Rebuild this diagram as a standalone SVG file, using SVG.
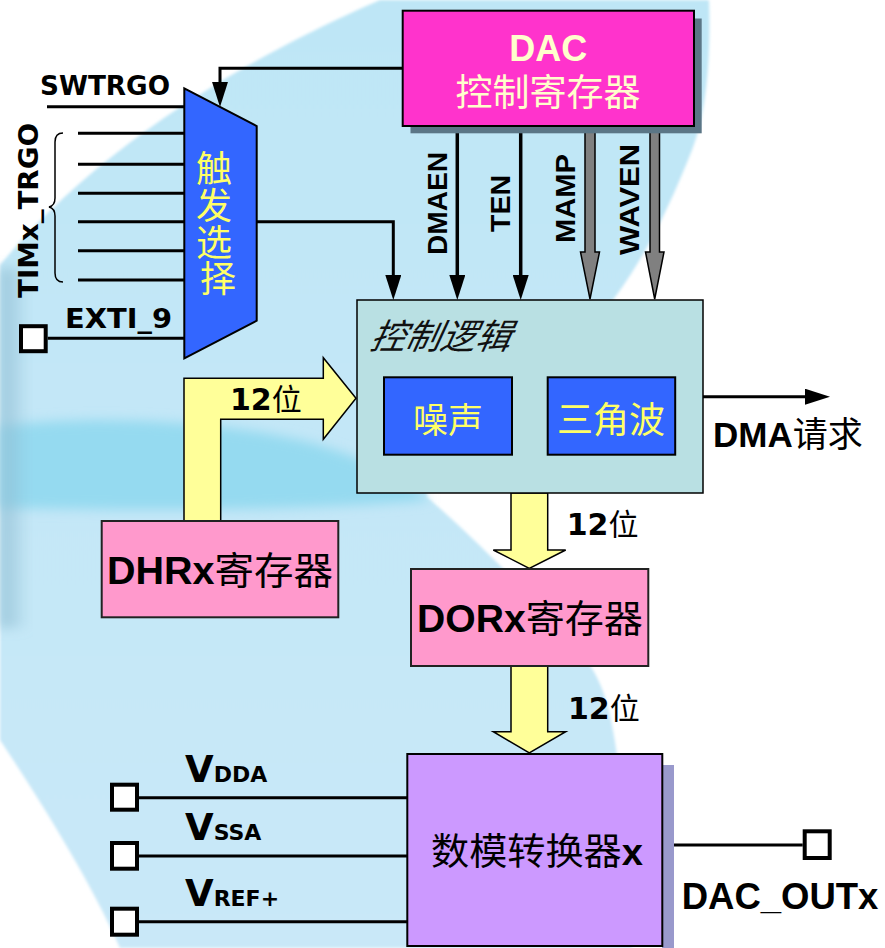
<svg xmlns="http://www.w3.org/2000/svg" width="885" height="948" viewBox="0 0 885 948">
<defs>
<style>
.sans{font-family:"Liberation Sans","Noto Sans CJK SC",sans-serif;font-weight:bold}
.dv{font-family:"DejaVu Sans","Liberation Sans",sans-serif;font-weight:bold}
.cjk{font-family:"Noto Sans CJK SC",sans-serif;font-weight:normal}
.wire{stroke:#000;stroke-width:3;fill:none}
.wire2{stroke:#000;stroke-width:3.5;fill:none}
.fat{fill:#ffff99;stroke:#000;stroke-width:1.5;stroke-linejoin:miter}
.pin{fill:#fff;stroke:#000;stroke-width:4}
.gray{fill:#808080;stroke:#000;stroke-width:1.5}
.box{stroke:#000;stroke-width:2}
</style>
<marker id="ah" viewBox="0 0 25 16" markerWidth="25" markerHeight="16" markerUnits="userSpaceOnUse" refX="13" refY="8" orient="auto">
<path d="M0,0 L25,8 L0,16 Z" fill="#000"/>
</marker>
<linearGradient id="bg" x1="0" y1="0" x2="0" y2="1">
<stop offset="0" stop-color="#bee6f6"/>
<stop offset="1" stop-color="#c9e8f8"/>
</linearGradient>
<linearGradient id="edge" x1="0" y1="0" x2="1" y2="0">
<stop offset="0" stop-color="#8fbdd2" stop-opacity="0.8"/>
<stop offset="1" stop-color="#8fbdd2" stop-opacity="0"/>
</linearGradient>
<filter id="soft" x="-10%" y="-50%" width="120%" height="200%">
<feGaussianBlur stdDeviation="6"/>
</filter>
<filter id="soft2" x="-5%" y="-5%" width="110%" height="110%">
<feGaussianBlur stdDeviation="1.5"/>
</filter>
</defs>

<g id="background">
<rect x="0" y="0" width="885" height="948" fill="#ffffff"/>
<path filter="url(#soft2)" fill="url(#bg)" d="M380,0 L709,0 C711,60 706,115 692,150 C672,200 650,250 613,300 C540,380 420,460 427,497 C460,525 560,620 593,670 C610,700 622,740 632,948 L120,948 C90,880 40,800 0,740 L0,265 C120,120 300,35 380,0 Z"/>
<path filter="url(#soft)" fill="#95daf0" d="M0,426 C80,416 200,418 300,440 C360,455 400,475 430,500 C300,512 120,510 0,508 Z"/>
<rect x="0" y="268" width="30" height="360" fill="url(#edge)" filter="url(#soft)"/>
</g>

<g id="connectors">
<line class="wire" x1="47" y1="106.7" x2="184.3" y2="106.7"/>
<line class="wire" x1="78" y1="133.3" x2="184.3" y2="133.3"/>
<line class="wire" x1="78" y1="164.3" x2="184.3" y2="164.3"/>
<line class="wire" x1="78" y1="193.3" x2="184.3" y2="193.3"/>
<line class="wire" x1="78" y1="221.7" x2="184.3" y2="221.7"/>
<line class="wire" x1="78" y1="250.7" x2="184.3" y2="250.7"/>
<line class="wire" x1="78" y1="280" x2="184.3" y2="280"/>
<path d="M63,133 C57,133 55,136 55,142 L55,198 C55,203 53,206 49,207 C53,208 55,211 55,216 L55,273 C55,279 57,282 63,282" fill="none" stroke="#000" stroke-width="1.5"/>
<line class="wire" x1="47.7" y1="338.3" x2="184.3" y2="338.3"/>
<path class="wire" d="M402.7,68.3 H220 V94.9" marker-end="url(#ah)"/>
<path class="wire" d="M256.7,221.7 H393.3 V288" marker-end="url(#ah)"/>
<path class="wire2" d="M457.3,126 V288" marker-end="url(#ah)"/>
<path class="wire2" d="M520.7,126 V288" marker-end="url(#ah)"/>
<polygon class="gray" points="585,126 595,126 595,252 599.5,252 590,299 580.5,252 585,252"/>
<polygon class="gray" points="650,126 659.5,126 659.5,252 664,252 654.7,299 645.5,252 650,252"/>
<path class="wire" d="M703,396.7 H818" marker-end="url(#ah)"/>
<polygon class="fat" points="184,521 184,378.3 323.3,378.3 323.3,357.7 356,398.3 323.3,439.3 323.3,419.3 220.7,419.3 220.7,521"/>
<polygon class="fat" points="511,493 547.7,493 547.7,550 565.7,550 529.3,568.3 493.3,550 511,550"/>
<polygon class="fat" points="511,666 547.7,666 547.7,731.7 565.7,731.7 529.3,753 493.3,731.7 511,731.7"/>
<line class="wire" x1="139" y1="797.7" x2="407.3" y2="797.7"/>
<line class="wire" x1="139" y1="856" x2="407.3" y2="856"/>
<line class="wire" x1="139" y1="921.7" x2="407.3" y2="921.7"/>
<line class="wire" x1="662" y1="845" x2="802.7" y2="845"/>
</g>

<g id="dac_ctrl_reg">
<rect x="410.5" y="18.5" width="291.2" height="114.8" fill="#5b7686"/>
<rect x="402.7" y="10.7" width="291.3" height="115.3" fill="#ff33cc" class="box"/>
<text class="sans" x="548.3" y="61" font-size="36" fill="#ffffcc" text-anchor="middle">DAC</text>
<text class="cjk" x="548" y="106" font-size="37" fill="#ffffcc" text-anchor="middle">控制寄存器</text>
</g>

<g id="labels_ctrl_bits">
<text class="sans" font-size="27" text-anchor="middle" textLength="103" lengthAdjust="spacingAndGlyphs" transform="translate(447,203.5) rotate(-90)" x="0" y="0">DMAEN</text>
<text class="sans" font-size="27" text-anchor="middle" textLength="57" lengthAdjust="spacingAndGlyphs" transform="translate(510,203.5) rotate(-90)" x="0" y="0">TEN</text>
<text class="sans" font-size="27" text-anchor="middle" textLength="89" lengthAdjust="spacingAndGlyphs" transform="translate(575,198.5) rotate(-90)" x="0" y="0">MAMP</text>
<text class="sans" font-size="28" text-anchor="middle" textLength="111" lengthAdjust="spacingAndGlyphs" transform="translate(639,199.5) rotate(-90)" x="0" y="0">WAVEN</text>
</g>

<g id="trigger_mux">
<polygon points="184.3,88.3 256.7,126 256.7,320.7 184.3,358.3" fill="#3366ff" stroke="#000" stroke-width="2"/>
<text class="cjk" font-size="36" fill="#ffff66" text-anchor="middle">
<tspan x="218" y="182">触</tspan>
<tspan x="218" y="219">发</tspan>
<tspan x="218" y="256">选</tspan>
<tspan x="218" y="292">择</tspan>
</text>
</g>

<g id="trigger_inputs">
<text class="dv" x="40" y="95" font-size="26" textLength="130" lengthAdjust="spacingAndGlyphs">SWTRGO</text>
<text class="dv" font-size="26" text-anchor="middle" textLength="175" lengthAdjust="spacingAndGlyphs" transform="translate(38,210.5) rotate(-90)" x="0" y="0">TIMx_TRGO</text>
<text class="dv" x="65" y="328" font-size="26" textLength="107" lengthAdjust="spacingAndGlyphs">EXTI_9</text>
<rect class="pin" x="21" y="326.2" width="24.7" height="25"/>
</g>

<g id="control_logic">
<rect x="357" y="300" width="346" height="193" fill="#b9e0e3" stroke="#000" stroke-width="1.5"/>
<text class="cjk" x="369" y="349" font-size="35" font-style="italic" fill="#111" transform="translate(369,349) skewX(-12) translate(-369,-349)">控制逻辑</text>
<g id="noise">
<rect x="384" y="377.3" width="128" height="77.4" fill="#3366ff" class="box"/>
<text class="cjk" x="448" y="433" font-size="35" fill="#ffff66" text-anchor="middle">噪声</text>
</g>
<g id="triangle">
<rect x="547.7" y="377.3" width="127.5" height="77.4" fill="#3366ff" class="box"/>
<text class="cjk" x="611" y="433" font-size="36" fill="#ffff66" text-anchor="middle">三角波</text>
</g>
</g>

<g id="dma_request">
<text x="713" y="447" font-size="35"><tspan class="sans">DMA</tspan><tspan class="cjk">请求</tspan></text>
</g>

<g id="dhr_reg">
<rect x="101.7" y="521" width="236.6" height="96.3" fill="#ff99cc" stroke="#222" stroke-width="2"/>
<text x="220" y="584" font-size="38" text-anchor="middle" textLength="226" lengthAdjust="spacingAndGlyphs"><tspan class="sans">DHRx</tspan><tspan class="cjk">寄存器</tspan></text>
</g>

<g id="bits_labels">
<text x="230" y="410" font-size="30"><tspan class="dv">12</tspan><tspan class="cjk">位</tspan></text>
<text x="566.7" y="535" font-size="30"><tspan class="dv">12</tspan><tspan class="cjk">位</tspan></text>
<text x="568" y="719" font-size="30"><tspan class="dv">12</tspan><tspan class="cjk">位</tspan></text>
</g>

<g id="dor_reg">
<rect x="411" y="569" width="237.3" height="97" fill="#ff99cc" stroke="#222" stroke-width="2"/>
<text x="530" y="632" font-size="38" text-anchor="middle" textLength="226" lengthAdjust="spacingAndGlyphs"><tspan class="sans">DORx</tspan><tspan class="cjk">寄存器</tspan></text>
</g>

<g id="dac_converter">
<rect x="662" y="765" width="12" height="183" fill="#9999cc"/>
<rect x="407.3" y="754" width="255" height="192" fill="#cc99ff" class="box"/>
<text x="537" y="865" font-size="37" text-anchor="middle" textLength="212" lengthAdjust="spacingAndGlyphs"><tspan class="cjk">数模转换器</tspan><tspan class="sans">x</tspan></text>
</g>

<g id="vdda_pin">
<rect class="pin" x="112" y="784.7" width="25" height="25"/>
<text x="185" y="782" class="dv"><tspan font-size="37">V</tspan><tspan font-size="22">DDA</tspan></text>
</g>
<g id="vssa_pin">
<rect class="pin" x="112" y="843" width="25" height="25.7"/>
<text x="185" y="840" class="dv"><tspan font-size="37">V</tspan><tspan font-size="22">SSA</tspan></text>
</g>
<g id="vref_pin">
<rect class="pin" x="112" y="908.7" width="25" height="26"/>
<text x="185" y="906" class="dv"><tspan font-size="37">V</tspan><tspan font-size="22">REF+</tspan></text>
</g>

<g id="dac_out_pin">
<rect class="pin" x="804.7" y="831.3" width="25" height="26.7"/>
<text class="sans" x="681.7" y="909" font-size="36.5">DAC_OUTx</text>
</g>
</svg>
